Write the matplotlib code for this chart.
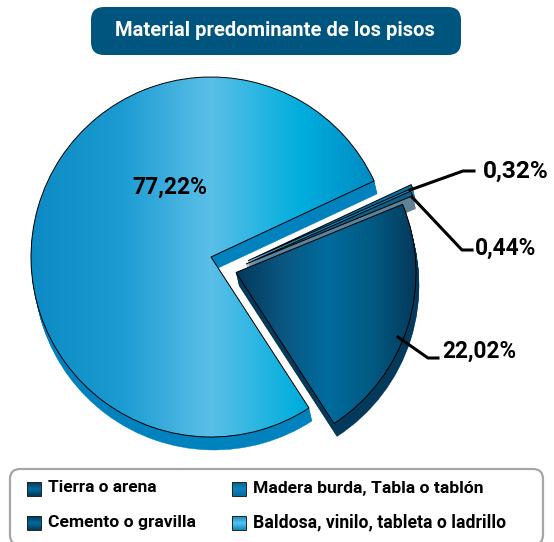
import numpy as np
import matplotlib
matplotlib.use("Agg")
import matplotlib.pyplot as plt
from matplotlib.patches import FancyBboxPatch, Wedge
from matplotlib.colors import LinearSegmentedColormap

title = "Material predominante de los pisos"
categories = ["Baldosa, vinilo, tableta o ladrillo", "Tierra o arena", "Cemento o gravilla", "Madera burda, Tabla o tablón"]
values = [77.22, 22.02, 0.44, 0.32]
value_labels = ["77,22%", "22,02%", "0,44%", "0,32%"]

H = 542
FONT = ["Roboto", "Liberation Sans", "DejaVu Sans"]
def Y(py):
    return H - py

fig = plt.figure(figsize=(5.54, 5.42), dpi=100, facecolor="white")
ax = fig.add_axes([0, 0, 1, 1])
ax.set_xlim(0, 554)
ax.set_ylim(0, H)

blue_cm = LinearSegmentedColormap.from_list("b", ["#0d8ac4", "#1b9bd2", "#5bbfe8", "#00aedd", "#0083bd"])
dark_cm = LinearSegmentedColormap.from_list("d", ["#04385a", "#0a5680", "#006c9e", "#025a82", "#04385a"])
mid_cm = LinearSegmentedColormap.from_list("m", ["#0a5f8c", "#0b86c0", "#0a6a9c"])
lite_cm = LinearSegmentedColormap.from_list("l", ["#0d8ac4", "#5bc4ec", "#0d8ac4"])
tier_cm = LinearSegmentedColormap.from_list("t", ["#04385a", "#006c9e", "#04385a"])

centers = [(211, Y(257)), (236, Y(272.5)), (246, Y(264)), (248, Y(260.7))]
grads = [blue_cm, dark_cm, None, None]
flats = ["#0083bd", "#03395a", "#0f5f88", "#0a6fa2"]
sides = ["#0082bf", "#03395a", "#5f8296", "#0b86c0"]
layer = [2, 11, 8, 5]

wedges, _ = ax.pie(values, radius=180, startangle=25, colors=flats, frame=False)

for i, w in enumerate(wedges):
    w.set_center(centers[i])
    cx, cy = centers[i]
    base = layer[i]
    for d in range(1, 14):
        t = d / 13
        ax.add_patch(Wedge((cx + 3 * t, cy - 13 * t), 180, w.theta1, w.theta2,
                           facecolor=sides[i], edgecolor=sides[i], lw=0.3, zorder=base))
    w.set_zorder(base + 1)
    w.set_edgecolor("black")
    w.set_linewidth(0.7)
    if grads[i] is not None:
        g = np.linspace(0, 1, 256).reshape(1, -1)
        xs = [30, 391] if i == 0 else [236, 418]
        im = ax.imshow(g, cmap=grads[i], extent=[xs[0], xs[1], 0, H], aspect="auto", zorder=base + 0.5)
        w.set_facecolor("none")
        clip = Wedge(centers[i], 180, w.theta1, w.theta2, transform=ax.transData)
        im.set_clip_path(clip)

ax.set_xlim(0, 554)
ax.set_ylim(0, H)
ax.set_aspect("auto")
ax.axis("off")

renderer = fig.canvas.get_renderer()

def fit_text(s, x0, x1, yc, color="black", z=21):
    t = ax.text(x0, Y(yc), s, family=FONT, fontweight="bold", color=color, fontsize=14,
                ha="left", va="center", zorder=z)
    wd = t.get_window_extent(renderer).width
    t.set_fontsize(14 * (x1 - x0) / wd)
    return t

# leader lines
ln = dict(color="black", lw=2.2, zorder=20, solid_joinstyle="round")
ax.plot([410, 463, 474], [Y(190), Y(171), Y(171)], **ln)
ax.plot([412, 462, 472], [Y(197), Y(250), Y(250)], **ln)
ax.plot([398, 428, 438], [Y(337), Y(358), Y(358)], **ln)

fit_text(value_labels[0], 132, 207, 187)
fit_text(value_labels[1], 442, 516, 351)
fit_text(value_labels[2], 475, 537, 248)
fit_text(value_labels[3], 483, 549, 171)

# title
ax.add_patch(FancyBboxPatch((91, Y(55)), 370, 48, boxstyle="round,pad=0,rounding_size=13", lw=0, fc="#00557f", zorder=5))
fit_text(title, 115, 436, 30, color="white", z=6)

# legend
ax.add_patch(FancyBboxPatch((10, Y(545)), 533, 76, boxstyle="round,pad=0,rounding_size=10",
                            lw=1.6, ec="#a6a6a6", fc="white", zorder=5))
legend_order = [1, 3, 2, 0]
lx = [27, 232]
tx = [(48, 157), (253, 483), (48, 196), (253, 506)]
ly = [489, 523]
mk = [tier_cm, mid_cm, tier_cm, lite_cm]
for k, idx in enumerate(legend_order):
    col, row = k % 2, k // 2
    x0, yc = lx[col], ly[row]
    g = np.linspace(0, 1, 64).reshape(-1, 1)
    ax.imshow(g, cmap=mk[k], extent=[x0, x0 + 14, Y(yc + 7), Y(yc - 7)], aspect="auto", zorder=6)
    ax.add_patch(plt.Rectangle((x0, Y(yc + 7)), 14, 14, fc="none", ec="#222222", lw=0.7, zorder=7))
    fit_text(categories[idx], tx[k][0], tx[k][1], yc - 1, z=7)

ax.set_xlim(0, 554)
ax.set_ylim(0, H)
ax.set_aspect("auto")
fig.savefig("out.png", dpi=100, facecolor="white")
